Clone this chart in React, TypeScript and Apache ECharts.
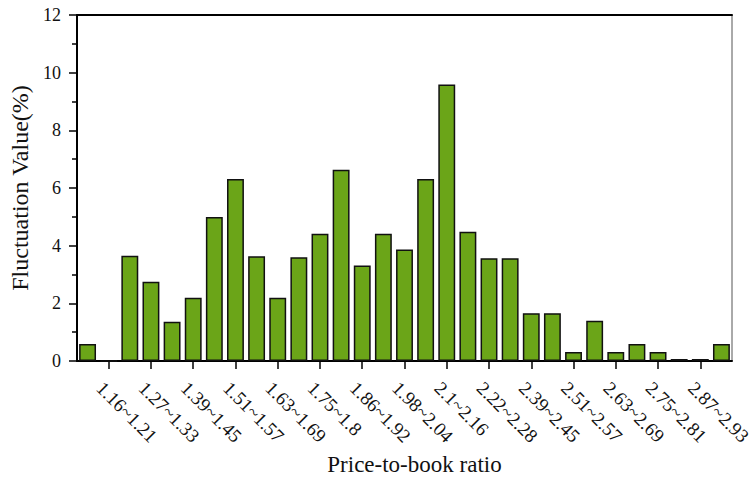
import React, { useEffect, useRef } from "react";
import * as echarts from "echarts";

const categories: string[] = [
  "1.1~1.16", "1.16~1.21", "1.21~1.27", "1.27~1.33", "1.33~1.39", "1.39~1.45",
  "1.45~1.51", "1.51~1.57", "1.57~1.63", "1.63~1.69", "1.69~1.75", "1.75~1.8",
  "1.8~1.86", "1.86~1.92", "1.92~1.98", "1.98~2.04", "2.04~2.1", "2.1~2.16",
  "2.16~2.22", "2.22~2.28", "2.28~2.39", "2.39~2.45", "2.45~2.51", "2.51~2.57",
  "2.57~2.63", "2.63~2.69", "2.69~2.75", "2.75~2.81", "2.81~2.87", "2.87~2.93",
  "2.93~2.99",
];

const fluctuation: number[] = [
  0.59, 0, 3.65, 2.75, 1.36, 2.19, 4.99, 6.31, 3.63, 2.19, 3.6, 4.41,
  6.63, 3.31, 4.41, 3.87, 6.31, 9.59, 4.48, 3.56, 3.56, 1.66, 1.66, 0.31,
  1.4, 0.31, 0.59, 0.31, 0.07, 0.07, 0.59,
];

const xAxisTitle = "Price-to-book ratio";
const yAxisTitle = "Fluctuation Value(%)";

const FONT = "Liberation Serif";

export default function App() {
  const ref = useRef<HTMLDivElement>(null);
  useEffect(() => {
    if (!ref.current) return;
    const chart = echarts.init(ref.current, undefined, { renderer: "svg" });
    const shown = (i: number) => i % 2 === 1;
    chart.setOption({
      animation: false,
      backgroundColor: "#ffffff",
      textStyle: { fontFamily: FONT },
      grid: {
        left: 77,
        top: 15,
        right: 23,
        bottom: 120,
        containLabel: false,
        outerBoundsMode: "none",
        show: true,
        borderColor: "#555",
        borderWidth: 1,
      },
      xAxis: [
        {
          type: "category",
          data: categories,
          position: "bottom",
          name: xAxisTitle,
          nameLocation: "middle",
          nameGap: 90,
          nameTextStyle: {
            fontFamily: FONT,
            fontSize: 23,
            color: "#111",
            padding: [0, 0, 0, 20],
          },
          axisLine: { show: true, lineStyle: { color: "#000", width: 2 } },
          axisTick: {
            show: true,
            alignWithLabel: true,
            interval: (i: number) => shown(i),
            length: 8,
            lineStyle: { color: "#000", width: 1.5 },
          },
          axisLabel: {
            interval: (i: number) => shown(i),
            rotate: -45,
            margin: 15,
            align: "left",
            verticalAlign: "top",
            padding: [3, 0, 0, 0],
            fontFamily: FONT,
            fontSize: 19,
            color: "#111",
            hideOverlap: false,
          },
          splitLine: { show: false },
        },
        {
          type: "category",
          data: categories,
          position: "top",
          axisLine: { show: true, lineStyle: { color: "#000", width: 2 } },
          axisTick: { show: false },
          axisLabel: { show: false },
        },
      ],
      yAxis: {
        type: "value",
        min: 0,
        max: 12,
        interval: 2,
        name: yAxisTitle,
        nameLocation: "middle",
        nameGap: 40,
        nameRotate: 90,
        nameTextStyle: { fontFamily: FONT, fontSize: 24, color: "#111" },
        axisLine: { show: true, lineStyle: { color: "#000", width: 2 } },
        axisTick: { show: true, length: 8, lineStyle: { color: "#000", width: 1.5 } },
        minorTick: { show: true, splitNumber: 2, length: 5, lineStyle: { color: "#000", width: 1.5 } },
        axisLabel: { margin: 16, fontFamily: FONT, fontSize: 18, color: "#111" },
        splitLine: { show: false },
        minorSplitLine: { show: false },
      },
      series: [
        {
          type: "bar",
          data: fluctuation,
          barCategoryGap: "20%",
          itemStyle: {
            color: "#6ba518",
            borderColor: "#111",
            borderWidth: 1.5,
          },
        },
      ],
    });
    return () => chart.dispose();
  }, []);
  return (
    <div
      ref={ref}
      style={{ position: "fixed", left: 0, top: 0, width: 755, height: 481 }}
    />
  );
}
